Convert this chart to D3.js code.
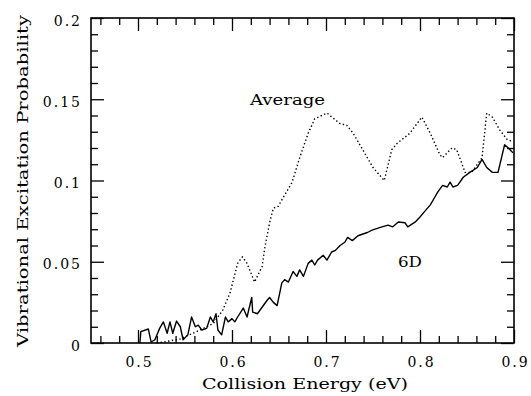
<!DOCTYPE html>
<html>
<head>
<meta charset="utf-8">
<script src="https://cdn.jsdelivr.net/npm/d3@7/dist/d3.min.js"></script>
<style>
  html, body { margin: 0; padding: 0; background: #fff; }
  svg { display: block; }
  text { font-family: "DejaVu Serif", "Liberation Serif", serif; fill: #000; }
</style>
</head>
<body>
<svg id="chart" width="531" height="396"></svg>
<script>
// ---- data ----
const xMajorTicks = [0.5, 0.6, 0.7, 0.8, 0.9];
const xTickLabels = ["0.5", "0.6", "0.7", "0.8", "0.9"];
const yMajorTicks = [0, 0.05, 0.1, 0.15, 0.2];
const yTickLabels = ["0", "0.05", "0.1", "0.15", "0.2"];

const avgEnergy = [0.520, 0.531, 0.545, 0.566, 0.580, 0.590, 0.598, 0.606, 0.611, 0.616, 0.624, 0.632, 0.635, 0.640, 0.644, 0.649, 0.656, 0.664, 0.672, 0.681, 0.688, 0.701, 0.715, 0.722, 0.729, 0.739, 0.750, 0.762, 0.770, 0.776, 0.789, 0.802, 0.811, 0.821, 0.824, 0.834, 0.839, 0.848, 0.855, 0.866, 0.871, 0.877, 0.885, 0.893, 0.899];
const avgProb   = [0.000, 0.001, 0.0025, 0.008, 0.012, 0.020, 0.031, 0.049, 0.053, 0.049, 0.0375, 0.047, 0.059, 0.074, 0.083, 0.084, 0.091, 0.099, 0.114, 0.129, 0.138, 0.1415, 0.135, 0.134, 0.129, 0.119, 0.108, 0.100, 0.119, 0.123, 0.129, 0.139, 0.129, 0.116, 0.114, 0.120, 0.119, 0.105, 0.105, 0.114, 0.1415, 0.139, 0.131, 0.125, 0.124];

const sixDEnergy = [0.502, 0.503, 0.511, 0.514, 0.518, 0.523, 0.527, 0.531, 0.534, 0.537, 0.541, 0.545, 0.548, 0.553, 0.557, 0.561, 0.564, 0.568, 0.573, 0.577, 0.580, 0.583, 0.585, 0.589, 0.593, 0.596, 0.600, 0.603, 0.606, 0.612, 0.616, 0.621, 0.622, 0.627, 0.632, 0.637, 0.640, 0.644, 0.648, 0.653, 0.656, 0.660, 0.665, 0.669, 0.672, 0.676, 0.681, 0.685, 0.688, 0.691, 0.697, 0.701, 0.706, 0.710, 0.715, 0.720, 0.723, 0.728, 0.734, 0.744, 0.749, 0.757, 0.766, 0.771, 0.777, 0.784, 0.787, 0.795, 0.800, 0.805, 0.811, 0.814, 0.819, 0.824, 0.829, 0.832, 0.835, 0.840, 0.846, 0.853, 0.861, 0.866, 0.871, 0.877, 0.883, 0.890, 0.894, 0.899];
const sixDProb   = [0.000, 0.007, 0.0086, 0.0006, 0.002, 0.009, 0.013, 0.006, 0.013, 0.006, 0.0135, 0.010, 0.002, 0.005, 0.016, 0.010, 0.011, 0.008, 0.009, 0.016, 0.013, 0.018, 0.008, 0.005, 0.016, 0.013, 0.015, 0.013, 0.016, 0.0215, 0.016, 0.028, 0.019, 0.018, 0.022, 0.026, 0.028, 0.025, 0.023, 0.037, 0.039, 0.0375, 0.044, 0.041, 0.045, 0.041, 0.049, 0.051, 0.048, 0.051, 0.054, 0.051, 0.056, 0.057, 0.060, 0.062, 0.065, 0.063, 0.066, 0.068, 0.0695, 0.071, 0.0725, 0.0715, 0.0745, 0.074, 0.0715, 0.0745, 0.0775, 0.081, 0.085, 0.088, 0.093, 0.097, 0.096, 0.099, 0.096, 0.097, 0.102, 0.105, 0.108, 0.113, 0.108, 0.105, 0.105, 0.122, 0.120, 0.117];

// ---- layout ----
const svg = d3.select("#chart");
const L = 91, R = 514, T = 18, B = 343;

const x = d3.scaleLinear().domain([0.45, 0.9]).range([L, R]);
const y = d3.scaleLinear().domain([0, 0.2]).range([B, T]);

const xMinor = d3.range(0.46, 0.9, 0.02).filter(v => Math.abs(v * 10 - Math.round(v * 10)) > 1e-6);
const yMinor = d3.range(0.01, 0.2, 0.01).filter(v => Math.abs(v * 20 - Math.round(v * 20)) > 1e-6);

function styleAxis(g, fontSize) {
  g.select(".domain").remove();
  g.selectAll(".tick line").attr("stroke", "#000").attr("stroke-width", 1.3);
  g.selectAll(".tick text")
    .style("font-family", '"DejaVu Serif", "Liberation Serif", serif')
    .style("font-size", fontSize + "px")
    .style("letter-spacing", "2px")
    .attr("fill", "#000");
}

// bottom axis (major with labels)
const fmtX = d => xTickLabels[xMajorTicks.indexOf(d)];
const fmtY = d => yTickLabels[yMajorTicks.indexOf(d)];

svg.append("g").attr("transform", `translate(0,${B})`)
  .call(d3.axisBottom(x).tickValues(xMajorTicks).tickFormat(fmtX).tickSize(-13).tickSizeOuter(0).tickPadding(14))
  .call(g => styleAxis(g, 14))
  .call(g => g.selectAll(".tick text").attr("dx", "1px"));
svg.append("g").attr("transform", `translate(0,${B})`)
  .call(d3.axisBottom(x).tickValues(xMinor).tickFormat("").tickSize(-7).tickSizeOuter(0))
  .call(g => styleAxis(g, 14));

// top axis
svg.append("g").attr("transform", `translate(0,${T})`)
  .call(d3.axisTop(x).tickValues(xMajorTicks).tickFormat("").tickSize(-13).tickSizeOuter(0))
  .call(g => styleAxis(g, 14));
svg.append("g").attr("transform", `translate(0,${T})`)
  .call(d3.axisTop(x).tickValues(xMinor).tickFormat("").tickSize(-7).tickSizeOuter(0))
  .call(g => styleAxis(g, 14));

// left axis (major with labels)
svg.append("g").attr("transform", `translate(${L},0)`)
  .call(d3.axisLeft(y).tickValues(yMajorTicks).tickFormat(fmtY).tickSize(-13).tickSizeOuter(0).tickPadding(9))
  .call(g => styleAxis(g, 14))
  .call(g => g.selectAll(".tick text").attr("dy", "0.5em"));
svg.append("g").attr("transform", `translate(${L},0)`)
  .call(d3.axisLeft(y).tickValues(yMinor).tickFormat("").tickSize(-7).tickSizeOuter(0))
  .call(g => styleAxis(g, 14));

// right axis
svg.append("g").attr("transform", `translate(${R},0)`)
  .call(d3.axisRight(y).tickValues(yMajorTicks).tickFormat("").tickSize(-13).tickSizeOuter(0))
  .call(g => styleAxis(g, 14));
svg.append("g").attr("transform", `translate(${R},0)`)
  .call(d3.axisRight(y).tickValues(yMinor).tickFormat("").tickSize(-7).tickSizeOuter(0))
  .call(g => styleAxis(g, 14));

// frame
svg.append("rect")
  .attr("x", L).attr("y", T).attr("width", R - L).attr("height", B - T)
  .attr("fill", "none").attr("stroke", "#000").attr("stroke-width", 1.6);

// lines
const line = d3.line().x(d => x(d[0])).y(d => y(d[1])).curve(d3.curveLinear);
const avgData = avgEnergy.map((e, i) => [e, avgProb[i]]);
const sixDData = sixDEnergy.map((e, i) => [e, sixDProb[i]]);

svg.append("path").datum(avgData)
  .attr("d", line).attr("fill", "none").attr("stroke", "#000")
  .attr("stroke-width", 1.4).attr("stroke-dasharray", "1.4,2.4");

svg.append("path").datum(sixDData)
  .attr("d", line).attr("fill", "none").attr("stroke", "#000")
  .attr("stroke-width", 1.4).attr("stroke-linejoin", "round");

// curve labels
svg.append("text").attr("x", 250).attr("y", 105)
  .attr("textLength", 75).attr("lengthAdjust", "spacingAndGlyphs")
  .style("font-size", "15px").text("Average");
svg.append("text").attr("x", 398).attr("y", 267)
  .attr("textLength", 24).attr("lengthAdjust", "spacingAndGlyphs")
  .style("font-size", "15px").text("6D");

// axis titles
svg.append("text").attr("x", 202).attr("y", 389)
  .attr("textLength", 206).attr("lengthAdjust", "spacingAndGlyphs")
  .style("font-size", "15px").text("Collision Energy (eV)");
svg.append("text")
  .attr("transform", "translate(28,347) rotate(-90)")
  .attr("textLength", 332).attr("lengthAdjust", "spacingAndGlyphs")
  .style("font-size", "15px").text("Vibrational Excitation Probability");
</script>
</body>
</html>
